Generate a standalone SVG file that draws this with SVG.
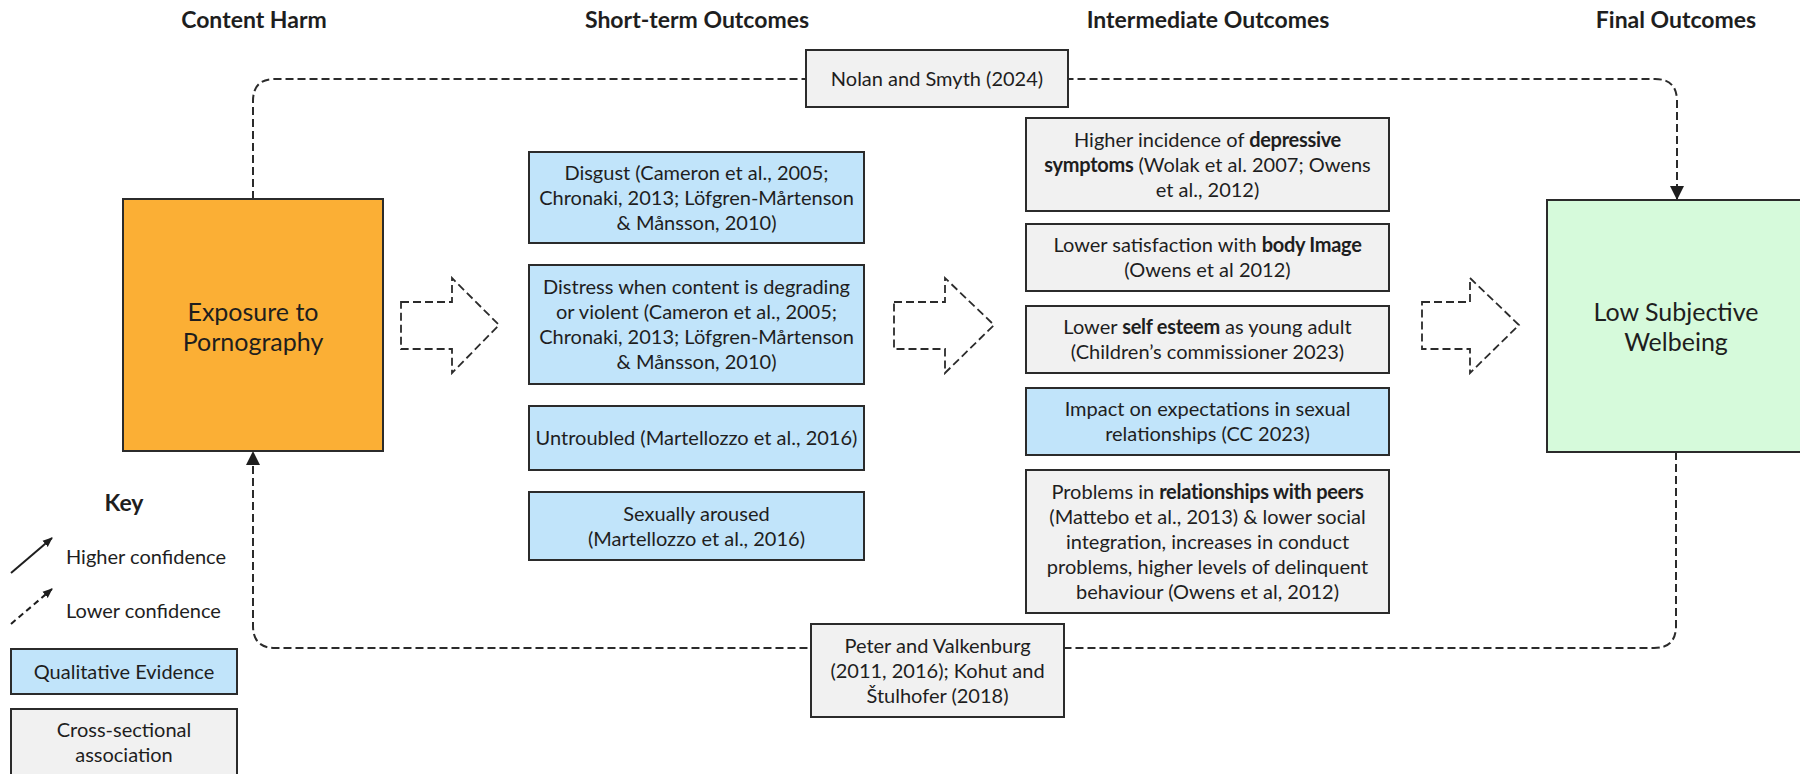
<svg xmlns="http://www.w3.org/2000/svg" width="1800" height="774" viewBox="0 0 1800 774">
<style>
text{font-family:Lato,"Noto Sans","Liberation Sans",sans-serif;fill:#1e1e1e;text-anchor:middle}
.h{font-size:23px;font-weight:bold}
.t{font-size:20px}
.big{font-size:25px}
.b{font-weight:bold;letter-spacing:-0.3px}
.box{stroke:#2b2b2b;stroke-width:2}
.blue{fill:#c1e4fa}
.grey{fill:#f1f1f1}
.conn{fill:none;stroke:#2b2b2b;stroke-width:2;stroke-dasharray:8 4}
.barrow{fill:#fff;stroke:#2b2b2b;stroke-width:1.8;stroke-dasharray:8 4}
</style>
<defs>
<marker id="ah" markerUnits="userSpaceOnUse" markerWidth="16" markerHeight="16" viewBox="0 0 16 16" refX="14" refY="8" orient="auto">
<path d="M1,1 L15,8 L1,15 Z" fill="#1e1e1e"/>
</marker>
<marker id="ahs" markerUnits="userSpaceOnUse" markerWidth="10" markerHeight="10" viewBox="0 0 10 10" refX="9" refY="5" orient="auto">
<path d="M0,1 L10,5 L0,9 Z" fill="#1e1e1e"/>
</marker>
</defs>
<rect width="1800" height="774" fill="#fff"/>

<g id="headers">
<text class="h" x="254" y="28">Content Harm</text>
<text class="h" x="697" y="28">Short-term Outcomes</text>
<text class="h" x="1208" y="28">Intermediate Outcomes</text>
<text class="h" x="1676" y="28">Final Outcomes</text>
</g>

<g id="connectors">
<path class="conn" d="M253,199 V101 Q253,79 275,79 H1655 Q1677,79 1677,101 V199" marker-end="url(#ah)"/>
<path class="conn" d="M1676,452 V626 Q1676,648 1654,648 H275 Q253,648 253,626 V452" marker-end="url(#ah)"/>
<polygon class="barrow" points="401,302 452,302 452,278 499,325 452,373 452,349 401,349"/>
<polygon class="barrow" points="894,302 945,302 945,278 994,325 945,373 945,349 894,349"/>
<polygon class="barrow" points="1422,302 1470,302 1470,278 1519,325 1470,373 1470,349 1422,349"/>
</g>

<g id="exposure">
<rect class="box" x="123" y="199" width="260" height="252" fill="#fbaf35"/>
<text class="big" x="253" y="321">Exposure to</text>
<text class="big" x="253" y="351">Pornography</text>
</g>

<g id="wellbeing">
<rect class="box" x="1547" y="200" width="260" height="252" fill="#d6fadb"/>
<text class="big" x="1676" y="321">Low Subjective</text>
<text class="big" x="1676" y="351">Welbeing</text>
</g>

<g id="nolan">
<rect class="box grey" x="806" y="50" width="262" height="57"/>
<text class="t" x="937" y="85.5">Nolan and Smyth (2024)</text>
</g>

<g id="peter">
<rect class="box grey" x="811" y="624" width="253" height="93"/>
<text class="t" x="937.5" y="652.5">Peter and Valkenburg</text>
<text class="t" x="937.5" y="677.5">(2011, 2016); Kohut and</text>
<text class="t" x="937.5" y="702.5">Štulhofer (2018)</text>
</g>

<g id="disgust">
<rect class="box blue" x="529" y="152" width="335" height="91"/>
<text class="t" x="696.5" y="179.5">Disgust (Cameron et al., 2005;</text>
<text class="t" x="696.5" y="204.5">Chronaki, 2013; Löfgren-Mårtenson</text>
<text class="t" x="696.5" y="229.5">&amp; Månsson, 2010)</text>
</g>

<g id="distress">
<rect class="box blue" x="529" y="265" width="335" height="119"/>
<text class="t" x="696.5" y="294">Distress when content is degrading</text>
<text class="t" x="696.5" y="319">or violent (Cameron et al., 2005;</text>
<text class="t" x="696.5" y="344">Chronaki, 2013; Löfgren-Mårtenson</text>
<text class="t" x="696.5" y="369">&amp; Månsson, 2010)</text>
</g>

<g id="untroubled">
<rect class="box blue" x="529" y="406" width="335" height="64"/>
<text class="t" x="696.5" y="445">Untroubled (Martellozzo et al., 2016)</text>
</g>

<g id="aroused">
<rect class="box blue" x="529" y="492" width="335" height="68"/>
<text class="t" x="696.5" y="520.5">Sexually aroused</text>
<text class="t" x="696.5" y="545.5">(Martellozzo et al., 2016)</text>
</g>

<g id="depressive">
<rect class="box grey" x="1026" y="118" width="363" height="93"/>
<text class="t" x="1207.5" y="146.5">Higher incidence of <tspan class="b">depressive</tspan></text>
<text class="t" x="1207.5" y="171.5"><tspan class="b">symptoms</tspan> (Wolak et al. 2007; Owens</text>
<text class="t" x="1207.5" y="196.5">et al., 2012)</text>
</g>

<g id="bodyimage">
<rect class="box grey" x="1026" y="224" width="363" height="67"/>
<text class="t" x="1207.5" y="252">Lower satisfaction with <tspan class="b">body Image</tspan></text>
<text class="t" x="1207.5" y="277">(Owens et al 2012)</text>
</g>

<g id="selfesteem">
<rect class="box grey" x="1026" y="306" width="363" height="67"/>
<text class="t" x="1207.5" y="334">Lower <tspan class="b">self esteem</tspan> as young adult</text>
<text class="t" x="1207.5" y="359">(Children’s commissioner 2023)</text>
</g>

<g id="expectations">
<rect class="box blue" x="1026" y="388" width="363" height="67"/>
<text class="t" x="1207.5" y="416">Impact on expectations in sexual</text>
<text class="t" x="1207.5" y="441">relationships (CC 2023)</text>
</g>

<g id="peers">
<rect class="box grey" x="1026" y="470" width="363" height="143"/>
<text class="t" x="1207.5" y="498.5">Problems in <tspan class="b">relationships with peers</tspan></text>
<text class="t" x="1207.5" y="523.5">(Mattebo et al., 2013) &amp; lower social</text>
<text class="t" x="1207.5" y="548.5">integration, increases in conduct</text>
<text class="t" x="1207.5" y="573.5">problems, higher levels of delinquent</text>
<text class="t" x="1207.5" y="598.5">behaviour (Owens et al, 2012)</text>
</g>

<g id="key">
<text class="h" x="124" y="511">Key</text>
<line x1="11" y1="573" x2="52" y2="538" stroke="#1e1e1e" stroke-width="2" marker-end="url(#ahs)"/>
<text class="t" x="66" y="564" style="text-anchor:start">Higher confidence</text>
<line x1="11" y1="624" x2="52" y2="589" stroke="#1e1e1e" stroke-width="2" stroke-dasharray="6 4" marker-end="url(#ahs)"/>
<text class="t" x="66" y="618" style="text-anchor:start">Lower confidence</text>
<rect class="box blue" x="11" y="649" width="226" height="45"/>
<text class="t" x="124" y="678.5">Qualitative Evidence</text>
<rect class="box grey" x="11" y="709" width="226" height="80"/>
<text class="t" x="124" y="737">Cross-sectional</text>
<text class="t" x="124" y="762">association</text>
</g>
</svg>
